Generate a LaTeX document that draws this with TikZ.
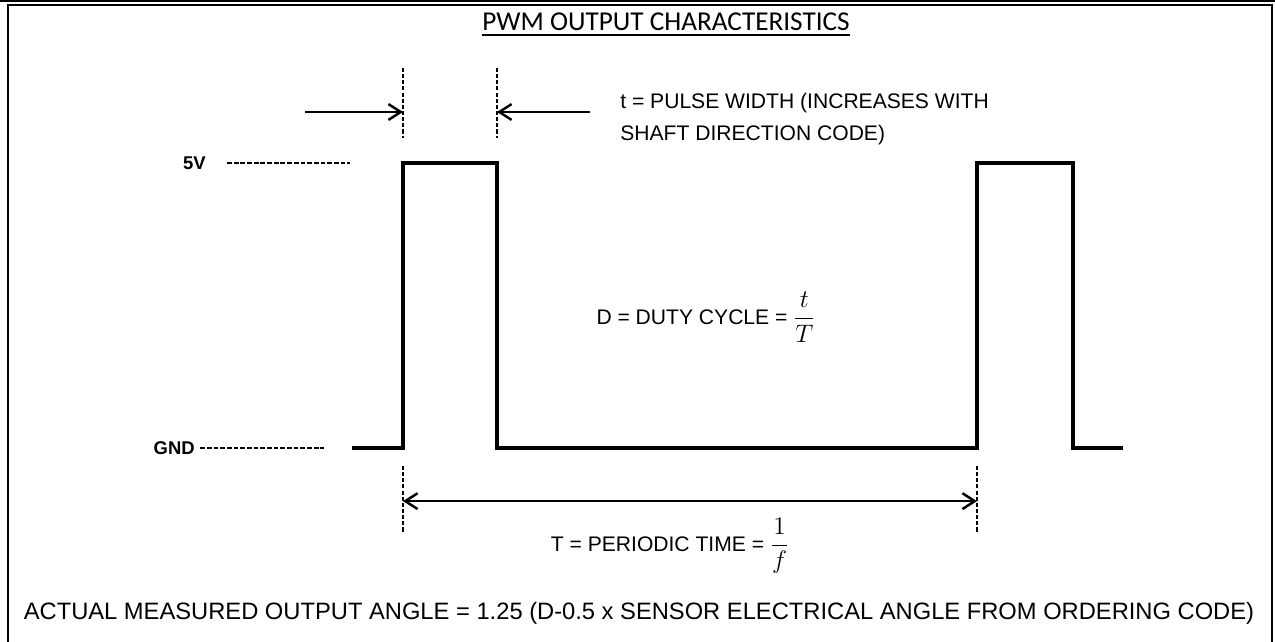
\documentclass[tikz,border=0pt]{standalone}
\usepackage{fontspec}
\setmainfont{Liberation Sans}
\newfontfamily\titlefont{Carlito}
\usetikzlibrary{arrows.meta, positioning}
\tikzset{
  wave/.style={line width=2pt, line join=miter},
  guide/.style={line width=1pt, dash pattern=on 2.3pt off 1.2pt},
  level/.style={line width=0.9pt, dash pattern=on 2.7pt off 1.1pt},
  barb/.tip={Straight Barb[length=7pt, width=9pt, line width=1.4pt]},
  dimline/.style={line width=1.5pt},
  lbl/.style={inner sep=0pt, font=\fontsize{12}{18}\selectfont, align=left},
  lvl/.style={inner sep=0pt, font=\bfseries\fontsize{10.5}{12}\selectfont}
}
\newcommand{\bigfrac}[2]{{\fontsize{15.5}{17}\selectfont$\displaystyle\frac{#1}{#2}$}}
\begin{document}
\begin{tikzpicture}[x=0.02cm, y=-0.02cm]
  \useasboundingbox (0,0) rectangle (1275,642);
  \def\hy{163}
  \def\ly{448}
  % frame
  \draw[line width=1.2pt] (0,1) -- (1275,1);
  \draw[line width=1.1pt] (8,642) -- (8,5) -- (1272,5) -- (1272,642);

  % title
  \node[inner sep=0pt, font=\titlefont\fontsize{15.5}{17}\selectfont] (title) at (666,22) {PWM OUTPUT CHARACTERISTICS};
  \draw[line width=1.2pt] ([yshift=-2.5pt]title.base west) -- ([yshift=-2.5pt]title.base east);

  % signal levels
  \node[lvl, anchor=east] (hi) at (206,\hy) {5V};
  \node[lvl, anchor=east] (lo) at (195,\ly) {GND};
  \coordinate (r1) at (403,\hy);
  \coordinate (f1) at (497,\hy);
  \coordinate (r2) at (977,\hy);
  \coordinate (f2) at (1073,\hy);
  \coordinate (w0) at (352,\ly);
  \coordinate (w1) at (1123,\ly);
  \draw[level] ([xshift=12pt]hi.east) -- ([xshift=-1pt]w0 |- r1);
  \draw[level] ([xshift=3pt]lo.east) -- ([xshift=-16pt]w0);
  \draw[wave] (w0) -| (r1) -| (f1 |- w0) -| (r2) -| (f2 |- w0) -- (w1);

  % pulse width
  \coordinate (t1) at (403,68);
  \coordinate (t2) at (497,68);
  \draw[guide] (t1) -- ++(0,70);
  \draw[guide] (t2) -- ++(0,70);
  \coordinate (aL) at (305,112);
  \coordinate (aR) at (590,112);
  \draw[dimline, -barb] (aL) -- (aL -| t1);
  \draw[dimline, -barb] (aR) -- (aR -| t2);
  \node[lbl, anchor=west] (pw) at (620,119) {t = PULSE WIDTH (INCREASES WITH\\SHAFT DIRECTION CODE)};

  % duty cycle
  \node[lbl, font=\fontsize{12}{14}\selectfont] (duty) at (706,317) {D = DUTY CYCLE = \bigfrac{t}{T}};

  % period
  \coordinate (p1) at (403,466);
  \coordinate (p2) at (977,466);
  \draw[guide] (p1) -- ++(0,67);
  \draw[guide] (p2) -- ++(0,67);
  \draw[dimline, barb-barb] ([yshift=-20]p1) -- ([yshift=-20]p2);
  \node[lbl, font=\fontsize{12}{14}\selectfont] (per) at (670,546) {T = PERIODIC TIME = \bigfrac{1}{f}};

  % result
  \node[inner sep=0pt, font=\fontsize{13.5}{15}\selectfont] (angle) at (639,613) {ACTUAL MEASURED OUTPUT ANGLE = 1.25 (D-0.5 x SENSOR ELECTRICAL ANGLE FROM ORDERING CODE)};
\end{tikzpicture}
\end{document}
